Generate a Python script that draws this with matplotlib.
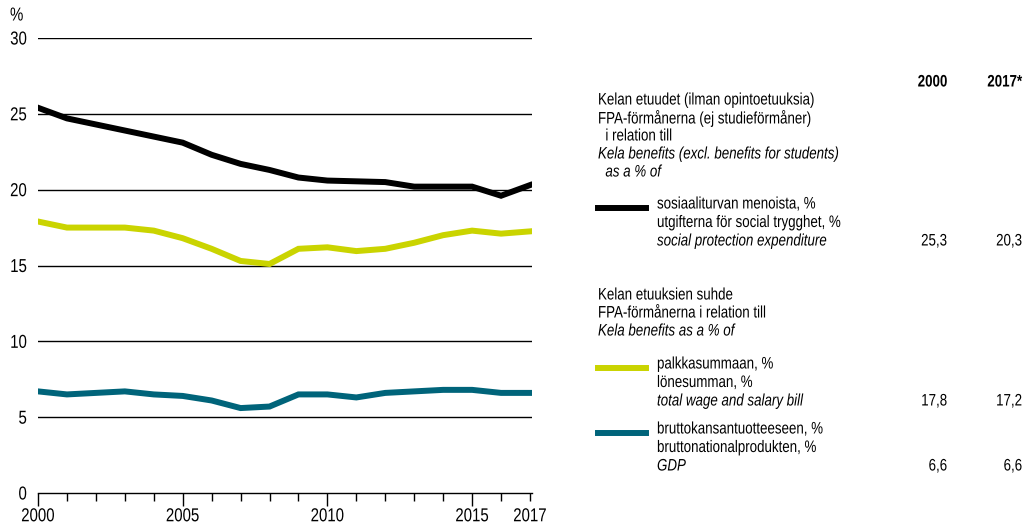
import matplotlib
matplotlib.use("Agg")
import matplotlib.pyplot as plt
from matplotlib.lines import Line2D
from matplotlib.patheffects import AbstractPathEffect
from matplotlib.transforms import Affine2D

plt.rcParams['font.family'] = ['Liberation Sans', 'DejaVu Sans']

# Data
years = list(range(2000, 2018))
social_protection = [25.4, 24.7, 24.3, 23.9, 23.5, 23.1, 22.3, 21.7, 21.3, 20.8,
                     20.6, 20.55, 20.5, 20.2, 20.2, 20.2, 19.6, 20.3]
wage_bill = [17.9, 17.5, 17.5, 17.5, 17.3, 16.8, 16.1, 15.3, 15.1, 16.1,
             16.2, 15.95, 16.1, 16.5, 17.0, 17.3, 17.1, 17.25]
gdp = [6.7, 6.5, 6.6, 6.7, 6.5, 6.4, 6.1, 5.6, 5.7, 6.5,
       6.5, 6.3, 6.6, 6.7, 6.8, 6.8, 6.6, 6.6]

xtick_years = [2000, 2005, 2010, 2015, 2017]
yticks = [0, 5, 10, 15, 20, 25, 30]

col_years = ["2000", "2017*"]
vals_social = ["25,3", "20,3"]
vals_wage = ["17,8", "17,2"]
vals_gdp = ["6,6", "6,6"]

BLACK = "#000000"
LIME = "#cad400"
TEAL = "#00647a"

W, H = 1028, 526
SX = 0.8  # horizontal squeeze to mimic a condensed typeface


class Condense(AbstractPathEffect):
    # squeeze text horizontally, about its own origin or about a fixed pixel x
    def __init__(self, sx=SX, anchor=None):
        super().__init__()
        self._sx = sx
        self._anchor = anchor

    def draw_path(self, renderer, gc, tpath, affine, rgbFace=None):
        if self._anchor is None:
            affine = Affine2D().scale(self._sx, 1) + affine
        else:
            affine = affine + Affine2D().translate(-self._anchor, 0).scale(self._sx, 1).translate(self._anchor, 0)
        renderer.draw_path(gc, tpath, affine, rgbFace)


fig = plt.figure(figsize=(W / 100, H / 100), dpi=100)


def fx(px):
    return px / W


def fy(py):
    return 1 - py / H


def txt(x, y, s, ha='left', **kw):
    anchor = x if ha == 'right' else None
    fig.text(fx(x), fy(y), s, ha=ha, va='center',
             path_effects=[Condense(anchor=anchor)], **kw)


ax = fig.add_axes([fx(38), fy(493), fx(532) - fx(38), fy(38) - fy(493)])
ax.plot(years, social_protection, color=BLACK, lw=4.3, solid_joinstyle='miter')
ax.plot(years, wage_bill, color=LIME, lw=4.3, solid_joinstyle='miter')
ax.plot(years, gdp, color=TEAL, lw=4.3, solid_joinstyle='miter')

ax.set_xlim(2000, 2017.07)
ax.set_ylim(0, 30)
ypad = 8
ax.set_yticks(yticks)
ax.set_yticklabels([str(v) for v in yticks], fontsize=13.5)
ax.tick_params(axis='y', length=0, pad=ypad)
for v in yticks[1:]:
    ax.axhline(v, color=BLACK, lw=1, zorder=0)

ax.set_xticks(xtick_years)
ax.set_xticklabels([str(y) for y in xtick_years], fontsize=13.5)
ax.set_xticks(years, minor=True)
ax.tick_params(axis='x', which='major', length=9, width=1, direction='out', pad=2)
ax.tick_params(axis='x', which='minor', length=6, width=1, direction='out')
ax.xaxis.get_major_ticks()[-1].tick1line.set_markersize(6)
for s in ['top', 'right', 'left']:
    ax.spines[s].set_visible(False)
ax.spines['bottom'].set_linewidth(1)
ax.patch.set_alpha(0)

# squeeze tick labels about their anchor point
for y, lab in zip(xtick_years, ax.get_xticklabels()):
    px = ax.transData.transform((y, 0))[0]
    lab.set_path_effects([Condense(anchor=px)])
yanchor = ax.transAxes.transform((0, 0))[0] - ypad * 100 / 72
for lab in ax.get_yticklabels():
    lab.set_path_effects([Condense(anchor=yanchor)])

txt(10, 16, "%", fontsize=13.5)

# Legend / table on the right
fs = 12
c1, c2 = 947, 1022
txt(c1, 82, col_years[0], ha='right', fontsize=fs, fontweight='bold')
txt(c2, 82, col_years[1], ha='right', fontsize=fs, fontweight='bold')

lx, tx = 598, 657
header1 = [("Kelan etuudet (ilman opintoetuuksia)", 'normal'),
           ("FPA-förmånerna (ej studieförmåner)", 'normal'),
           ("  i relation till", 'normal'),
           ("Kela benefits (excl. benefits for students)", 'italic'),
           ("  as a % of", 'italic')]
for i, (t, st) in enumerate(header1):
    txt(lx, 100 + i * 18, t, fontsize=fs, style=st)

header2 = [("Kelan etuuksien suhde", 'normal'),
           ("FPA-förmånerna i relation till", 'normal'),
           ("Kela benefits as a % of", 'italic')]
for i, (t, st) in enumerate(header2):
    txt(lx, 295 + i * 18, t, fontsize=fs, style=st)

entries = [
    (BLACK, 204, ["sosiaaliturvan menoista, %", "utgifterna för social trygghet, %",
                  "social protection expenditure"], vals_social),
    (LIME, 364, ["palkkasummaan, %", "lönesumman, %", "total wage and salary bill"], vals_wage),
    (TEAL, 429, ["bruttokansantuotteeseen, %", "bruttonationalprodukten, %", "GDP"], vals_gdp),
]
for color, y0, lines, vals in entries:
    fig.add_artist(Line2D([fx(lx), fx(646)], [fy(y0 + 4), fy(y0 + 4)], color=color, lw=4.3,
                          transform=fig.transFigure))
    for i, t in enumerate(lines):
        txt(tx, y0 + i * 18.5, t, fontsize=fs, style='italic' if i == 2 else 'normal')
    txt(c1, y0 + 37, vals[0], ha='right', fontsize=fs)
    txt(c2, y0 + 37, vals[1], ha='right', fontsize=fs)

fig.savefig("out.png", dpi=100)
